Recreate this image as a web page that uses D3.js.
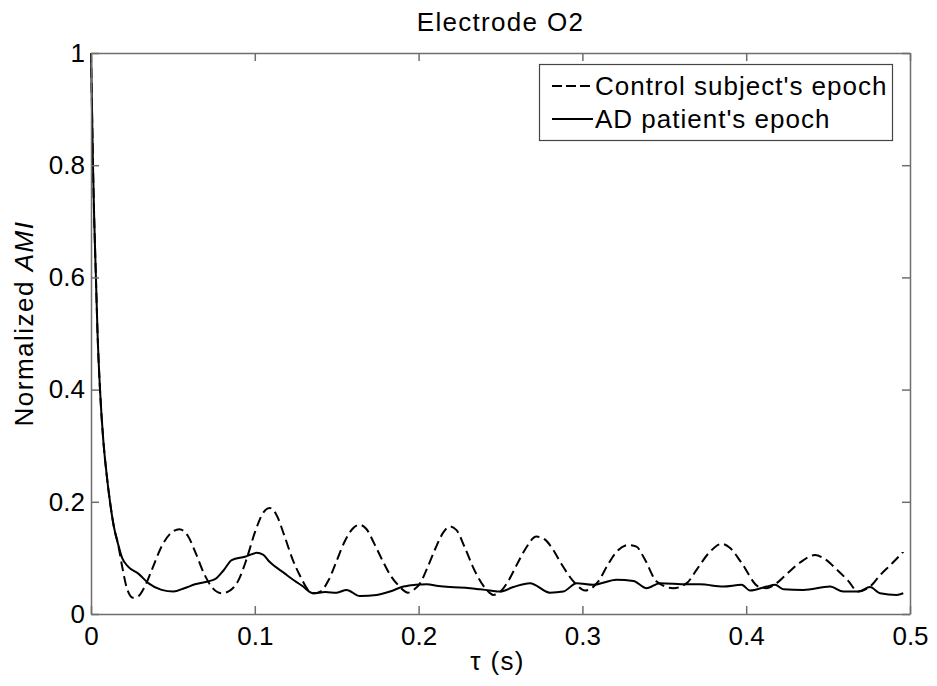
<!DOCTYPE html>
<html><head><meta charset="utf-8">
<script src="https://cdn.jsdelivr.net/npm/d3@7"></script>
<style>body{margin:0;background:#fff}svg{display:block}text{font-family:"Liberation Sans",Arial,sans-serif;fill:#000}</style>
</head><body><svg id="c" width="937" height="686"></svg>
<script>
const xTicks = [0, 0.1, 0.2, 0.3, 0.4, 0.5];
const yTicks = [0, 0.2, 0.4, 0.6, 0.8, 1];
const seriesNames = ["Control subject's epoch", "AD patient's epoch"];

const decayTau = [0, 0.0005, 0.0012, 0.002, 0.003, 0.004, 0.0055, 0.0075, 0.0095, 0.0116, 0.014, 0.0165];
const decayVal = [1, 0.92, 0.8, 0.7, 0.6, 0.5, 0.4, 0.31, 0.25, 0.2, 0.155, 0.125];

const controlTau = [0.019,0.022,0.0256,0.029,0.033,0.038,0.043,0.048,0.054,0.059,0.064,0.069,0.074,0.0798,0.085,0.09,0.095,0.1,0.105,0.109,0.113,0.118,0.123,0.128,0.132,0.136,0.14,0.145,0.15,0.155,0.16,0.164,0.168,0.173,0.178,0.183,0.188,0.1935,0.197,0.201,0.205,0.21,0.215,0.219,0.223,0.228,0.233,0.238,0.2416,0.2456,0.25,0.255,0.26,0.265,0.272,0.277,0.282,0.287,0.2955,0.3016,0.3097,0.315,0.32,0.328,0.333,0.338,0.3453,0.3555,0.3637,0.37,0.377,0.385,0.39,0.397,0.4074,0.4125,0.4186,0.425,0.433,0.442,0.448,0.455,0.462,0.4684,0.4756,0.482,0.489,0.4959];
const controlVal = [0.085,0.045,0.029,0.032,0.05,0.085,0.12,0.142,0.151,0.14,0.108,0.072,0.047,0.037,0.042,0.06,0.098,0.145,0.18,0.189,0.178,0.14,0.098,0.066,0.045,0.037,0.04,0.06,0.095,0.13,0.153,0.159,0.152,0.125,0.095,0.068,0.05,0.038,0.043,0.055,0.08,0.115,0.145,0.156,0.15,0.12,0.085,0.057,0.043,0.034,0.04,0.06,0.088,0.115,0.138,0.133,0.115,0.09,0.055,0.042,0.058,0.085,0.108,0.123,0.12,0.098,0.058,0.046,0.055,0.08,0.108,0.125,0.118,0.092,0.049,0.046,0.055,0.072,0.092,0.105,0.098,0.08,0.06,0.040,0.049,0.07,0.09,0.111];

const adTau = [0.019,0.0228,0.0289,0.035,0.0431,0.0503,0.057,0.0635,0.0757,0.081,0.0859,0.094,0.1011,0.105,0.109,0.1184,0.1215,0.129,0.1357,0.143,0.15,0.156,0.1642,0.1744,0.1825,0.1907,0.198,0.205,0.212,0.2192,0.2314,0.2375,0.2436,0.2497,0.2578,0.268,0.2802,0.2884,0.2965,0.3066,0.3209,0.3311,0.3392,0.3474,0.3637,0.3718,0.386,0.3972,0.4023,0.4125,0.4176,0.4227,0.4349,0.4512,0.4593,0.4684,0.4756,0.4817,0.4919,0.4959];
const adVal = [0.1,0.084,0.072,0.055,0.043,0.040,0.046,0.053,0.062,0.078,0.096,0.102,0.109,0.106,0.093,0.072,0.065,0.05,0.037,0.039,0.038,0.043,0.032,0.034,0.040,0.049,0.052,0.053,0.050,0.048,0.046,0.044,0.042,0.040,0.048,0.055,0.038,0.040,0.055,0.052,0.061,0.059,0.046,0.055,0.053,0.053,0.049,0.052,0.042,0.049,0.052,0.044,0.043,0.049,0.040,0.040,0.048,0.037,0.034,0.037];

const L = 91, R = 910, T = 53, B = 614;
const x = d3.scaleLinear().domain([0, 0.5]).range([L, R]);
const y = d3.scaleLinear().domain([0, 1]).range([B, T]);
const svg = d3.select("#c");
const axisColor = "#6e6e6e";

function pts(t, v) { return t.map((d, i) => [d, v[i]]); }
const controlData = pts(decayTau, decayVal).concat(pts(controlTau, controlVal));
const adData = pts(decayTau, decayVal).concat(pts(adTau, adVal));
const line = d3.line().x(d => x(d[0])).y(d => y(d[1])).curve(d3.curveMonotoneX);

svg.append("rect").attr("x", L).attr("y", T).attr("width", R - L).attr("height", B - T)
  .attr("fill", "#fff");

svg.append("path").attr("d", line(controlData)).attr("fill", "none").attr("stroke", "#000")
  .attr("stroke-width", 2).attr("stroke-dasharray", "10,5");
svg.append("path").attr("d", line(adData)).attr("fill", "none").attr("stroke", "#000")
  .attr("stroke-width", 2);

// axes
const fs = 26;
const ls = 1.3;
const gb = svg.append("g").attr("transform", `translate(0,${B})`)
  .call(d3.axisBottom(x).tickValues(xTicks).tickFormat(d => d3.format("")(+d.toFixed(1))).tickSizeInner(-8).tickSizeOuter(0).tickPadding(12));
const gt = svg.append("g").attr("transform", `translate(0,${T})`)
  .call(d3.axisTop(x).tickValues(xTicks).tickFormat("").tickSizeInner(-8).tickSizeOuter(0));
const gl = svg.append("g").attr("transform", `translate(${L},0)`)
  .call(d3.axisLeft(y).tickValues(yTicks).tickFormat(d => d3.format("")(+d.toFixed(1))).tickSizeInner(-8).tickSizeOuter(0).tickPadding(6));
const gr = svg.append("g").attr("transform", `translate(${R},0)`)
  .call(d3.axisRight(y).tickValues(yTicks).tickFormat("").tickSizeInner(-8).tickSizeOuter(0));
[gb, gt, gl, gr].forEach(g => {
  g.selectAll("path.domain").attr("stroke", axisColor).attr("stroke-width", 1.5);
  g.selectAll(".tick line").attr("stroke", axisColor).attr("stroke-width", 1.5);
  g.selectAll(".tick text").attr("font-size", fs).attr("fill", "#000")
    .attr("font-family", '"Liberation Sans", Arial, sans-serif');
});
gb.selectAll(".tick text").attr("dy", "0.72em");

// title and labels
svg.append("text").attr("x", (L + R) / 2).attr("y", 31).attr("text-anchor", "middle")
  .attr("font-size", fs).attr("letter-spacing", ls).text("Electrode O2");
svg.append("text").attr("x", (L + R) / 2 - 3).attr("y", 670).attr("text-anchor", "middle")
  .attr("font-size", fs).attr("letter-spacing", ls).text("τ (s)");
const yl = svg.append("text").attr("transform", `translate(33,${(T + B) / 2 - 10}) rotate(-90)`)
  .attr("text-anchor", "middle").attr("font-size", fs).attr("letter-spacing", 1.5);
yl.append("tspan").text("Normalized ");
yl.append("tspan").attr("font-style", "italic").text("AMI");

// legend
const lg = svg.append("g");
lg.append("rect").attr("x", 539.5).attr("y", 64.5).attr("width", 353).attr("height", 76)
  .attr("fill", "#fff").attr("stroke", "#444").attr("stroke-width", 1.2);
const rows = [86, 119];
seriesNames.forEach((n, i) => {
  lg.append("line").attr("x1", 552).attr("x2", 593).attr("y1", rows[i]).attr("y2", rows[i])
    .attr("stroke", "#000").attr("stroke-width", 2)
    .attr("stroke-dasharray", i === 0 ? "10,4" : null);
  lg.append("text").attr("x", 595).attr("y", rows[i]).attr("dy", "0.36em")
    .attr("font-size", fs).attr("letter-spacing", 1.0).text(n);
});
</script></body></html>
